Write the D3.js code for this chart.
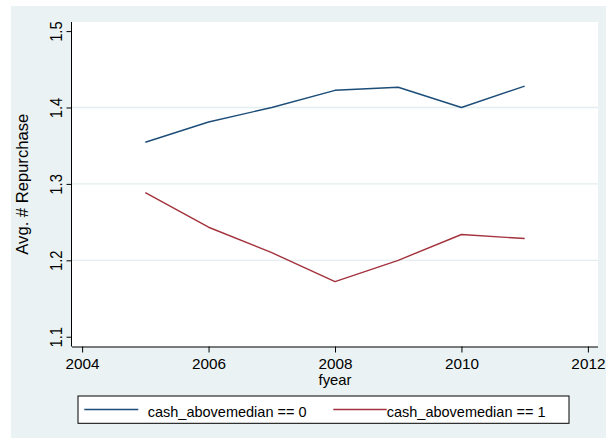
<!DOCTYPE html>
<html>
<head>
<meta charset="utf-8">
<script src="https://cdn.jsdelivr.net/npm/d3@7"></script>
<style>
  html, body { margin: 0; padding: 0; background: #ffffff; }
  svg { display: block; }
  text { font-family: "Liberation Sans", Arial, Helvetica, sans-serif; fill: #000; }
</style>
</head>
<body>
<svg id="chart" width="606" height="439"></svg>
<script>
// Fiscal years on the x axis
const years = [2005, 2006, 2007, 2008, 2009, 2010, 2011];

// Average number of repurchases, by cash group
const belowMedian = [1.3545, 1.381, 1.400, 1.4225, 1.4265, 1.400, 1.428];
const aboveMedian = [1.2886, 1.2433, 1.210, 1.172, 1.200, 1.2338, 1.2285];

const seriesNames = ["cash_abovemedian == 0", "cash_abovemedian == 1"];
const seriesColors = ["#1b4d78", "#a3323c"];

const xTicks = [2004, 2006, 2008, 2010, 2012];
const yTicks = [1.1, 1.2, 1.3, 1.4, 1.5];
const yGrid = [1.2, 1.3, 1.4];

const xTitle = "fyear";
const yTitle = "Avg. # Repurchase";

const svg = d3.select("#chart");

// outer graph region
svg.append("rect")
  .attr("x", 11).attr("y", 6).attr("width", 595).attr("height", 432)
  .attr("fill", "#eaf2f3");

// plot region
const plot = { left: 72, top: 22, right: 598, bottom: 346.5 };
svg.append("rect")
  .attr("x", plot.left).attr("y", plot.top)
  .attr("width", plot.right - plot.left).attr("height", plot.bottom - plot.top)
  .attr("fill", "#ffffff");

const x = d3.scaleLinear().domain([2003.84, 2012.16]).range([plot.left, plot.right]);
const y = d3.scaleLinear().domain([1.0872, 1.5119]).range([plot.bottom, plot.top]);

// horizontal grid lines
svg.append("g").selectAll("line").data(yGrid).join("line")
  .attr("x1", plot.left).attr("x2", plot.right)
  .attr("y1", d => y(d)).attr("y2", d => y(d))
  .attr("stroke", "#e4eef0").attr("stroke-width", 1.3);

// series lines
const line = d3.line().x(d => x(d[0])).y(d => y(d[1]));
[belowMedian, aboveMedian].forEach((vals, i) => {
  svg.append("path")
    .datum(years.map((yr, j) => [yr, vals[j]]))
    .attr("d", line)
    .attr("fill", "none")
    .attr("stroke", seriesColors[i])
    .attr("stroke-width", 1.4)
    .attr("stroke-linejoin", "round");
});

// x axis
const xAxis = svg.append("g")
  .attr("transform", `translate(0,${plot.bottom})`)
  .call(d3.axisBottom(x).tickValues(xTicks).tickFormat(d3.format("d")).tickSize(6).tickSizeOuter(0));
xAxis.select(".domain").attr("d", `M${plot.left},0.5H${plot.right}`).attr("stroke", "#000");
xAxis.selectAll(".tick line").attr("stroke", "#000");
xAxis.selectAll(".tick text")
  .attr("y", null).attr("dy", null)
  .attr("font-size", 15.3)
  .attr("transform", "translate(0,22.3)");

// y axis
const yAxis = svg.append("g")
  .attr("transform", `translate(${plot.left},0)`)
  .call(d3.axisLeft(y).tickValues(yTicks).tickFormat(d3.format(".1f")).tickSize(5.5).tickSizeOuter(0));
yAxis.select(".domain").attr("d", `M-0.5,${plot.top}V${plot.bottom}`).attr("stroke", "#000");
yAxis.selectAll(".tick line").attr("stroke", "#000");
yAxis.selectAll(".tick text")
  .attr("x", null).attr("dy", null)
  .attr("text-anchor", "middle")
  .attr("font-size", 14.8)
  .attr("transform", "translate(-10.5,0) rotate(-90) scale(1,1.16)");

// axis titles
svg.append("text")
  .attr("x", (plot.left + plot.right) / 2).attr("y", 385)
  .attr("text-anchor", "middle").attr("font-size", 14.8)
  .text(xTitle);

svg.append("text")
  .attr("transform", `translate(27.7,${(plot.top + plot.bottom) / 2}) rotate(-90)`)
  .attr("text-anchor", "middle").attr("font-size", 16.6)
  .text(yTitle);

// legend
const legend = svg.append("g");
legend.append("rect")
  .attr("x", 78).attr("y", 396).attr("width", 491).attr("height", 27.3)
  .attr("fill", "#ffffff").attr("stroke", "#000").attr("stroke-width", 1);

const legendKeys = [
  { x1: 84.3, x2: 138.3, tx: 147.7 },
  { x1: 333.3, x2: 386.7, tx: 386.7 }
];
legendKeys.forEach((k, i) => {
  legend.append("line")
    .attr("x1", k.x1).attr("x2", k.x2).attr("y1", 409.5).attr("y2", 409.5)
    .attr("stroke", seriesColors[i]).attr("stroke-width", 1.4);
  legend.append("text")
    .attr("x", k.tx).attr("y", 416.5).attr("font-size", 14.5)
    .text(seriesNames[i]);
});
</script>
</body>
</html>
